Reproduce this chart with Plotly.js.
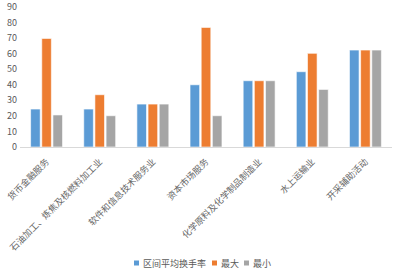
<!DOCTYPE html>
<html><head><meta charset="utf-8">
<script src="https://cdn.plot.ly/plotly-3.0.1.min.js"></script>
<style>html,body{margin:0;padding:0;background:#fff}#c{width:400px;height:274px}</style>
</head><body><div id="c"></div>
<script>
const categories = ["货币金融服务","石油加工、炼焦及核燃料加工业","软件和信息技术服务业","资本市场服务","化学原料及化学制品制造业","水上运输业","开采辅助活动"];
const avgTurnover = [24.4, 24.4, 27.6, 40.0, 42.6, 48.4, 62.3];
const maxTurnover = [69.8, 33.6, 27.6, 76.9, 42.6, 60.2, 62.3];
const minTurnover = [20.6, 20.1, 27.6, 20.1, 42.6, 37.0, 62.3];
const seriesNames = ["区间平均换手率","最大","最小"];
const colors = ["#5B9BD5","#ED7D31","#A5A5A5"];
const yTicks = [0,10,20,30,40,50,60,70,80,90];

const font = "Noto Sans CJK SC, sans-serif";
const data = [avgTurnover, maxTurnover, minTurnover].map((v,i)=>({
  type:"bar", x:categories, y:v, name:seriesNames[i], showlegend:false,
  marker:{color:colors[i], line:{color:"rgba(255,255,255,0.6)", width:1}}
}));

// custom legend (small squares + labels), positions in pixels converted to paper coords
const plotL = 20, plotW = 372, plotB = 147, plotH = 140;
const legendSquareX = [134, 212, 244];
const legendY = 263;
const px2x = p => (p - plotL) / plotW;
const py2y = p => (plotB - p) / plotH;
const shapes = seriesNames.map((n,i)=>({
  type:"rect", xref:"paper", yref:"paper",
  x0:px2x(legendSquareX[i]), x1:px2x(legendSquareX[i]+5),
  y0:py2y(legendY+2.5), y1:py2y(legendY-2.5),
  fillcolor:colors[i], line:{width:0}
}));
const annotations = seriesNames.map((n,i)=>({
  text:n, xref:"paper", yref:"paper", x:px2x(legendSquareX[i]+6.5), y:py2y(legendY),
  xanchor:"left", yanchor:"middle", showarrow:false,
  font:{family:font, size:9, color:"#595959"}
}));

const layout = {
  width:400, height:274,
  margin:{l:plotL, r:8, t:7, b:127},
  paper_bgcolor:"#fff", plot_bgcolor:"#fff",
  barmode:"group", bargap:0.37, bargroupgap:0.14,
  font:{family:font, color:"#595959", size:9},
  xaxis:{tickangle:-45, showline:true, linecolor:"#D9D9D9", linewidth:1, ticks:"", ticklabelstandoff:5, tickfont:{size:9, color:"#666666"}, automargin:false},
  yaxis:{range:[0,90], tickvals:yTicks, showgrid:false, zeroline:false, showline:false, ticks:"", ticklabelstandoff:2, tickfont:{size:9, color:"#595959"}, automargin:false},
  showlegend:false,
  shapes:shapes, annotations:annotations
};
Plotly.newPlot("c", data, layout, {displayModeBar:false, staticPlot:true});
</script></body></html>
